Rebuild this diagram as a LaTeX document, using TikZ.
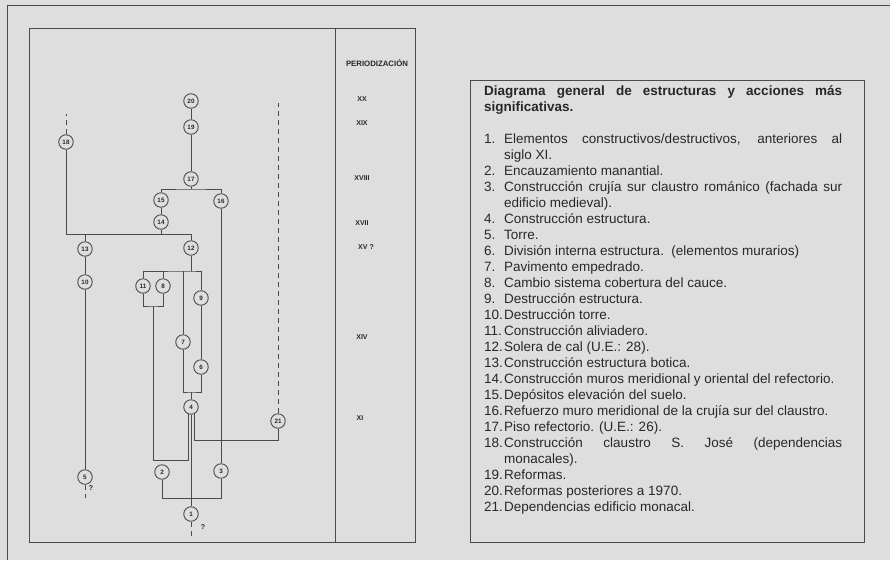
\documentclass[tikz,border=0pt]{standalone}
\usepackage{fontspec}
\setmainfont{Liberation Sans}
\usetikzlibrary{backgrounds}
\definecolor{pagebg}{RGB}{222,222,222}
\definecolor{ink}{RGB}{75,75,75}
\definecolor{txt}{RGB}{40,40,40}
\newcommand{\litem}[2]{\par\hangindent=20pt\hangafter=1\noindent\makebox[20pt][l]{#1.}#2}
\begin{document}
\begin{tikzpicture}[x=1pt,y=-1pt,
  num/.style={circle,draw=ink,line width=0.9pt,fill=pagebg,minimum size=14.5pt,inner sep=0pt,font=\fontsize{6.3}{6.3}\selectfont\bfseries,text=txt},
  link/.style={draw=ink,line width=0.8pt},
  dlink/.style={link,dash pattern=on 5pt off 4pt},
  frame/.style={draw=ink,line width=0.9pt},
  per/.style={font=\fontsize{7}{8}\selectfont\bfseries,text=txt,inner sep=0pt},
  qm/.style={font=\fontsize{7}{8}\selectfont\bfseries,text=txt,inner sep=0pt}
]
\useasboundingbox (0,0) rectangle (890,560);
% page frame and boxes
\draw[frame] (7,560) -- (7,5) -- (890,5);
\draw[frame] (29,28) rectangle (415,542);
\draw[frame] (335,28) -- (335,542);
\draw[frame] (470,80) rectangle (864,542);
% periodization
\node[per,font=\fontsize{7.8}{9}\selectfont\bfseries] (pz) at (377,63) {PERIODIZACIÓN};
\node[per] (p20) at (362,99) {XX};
\node[per] (p19) at (362,123) {XIX};
\node[per] (p18) at (362,178) {XVIII};
\node[per] (p17) at (362,223) {XVII};
\node[per] (p15) at (366,247) {XV ?};
\node[per] (p14) at (362,337) {XIV};
\node[per] (p11) at (360,418) {XI};
% nodes
\node[num] (n20) at (191,101) {20};
\node[num] (n19) at (191,127) {19};
\node[num] (n17) at (191,179) {17};
\node[num] (n18) at (66,142) {18};
\node[num] (n15) at (161,200) {15};
\node[num] (n16) at (221,201) {16};
\node[num] (n14) at (161,222) {14};
\node[num] (n13) at (85,249) {13};
\node[num] (n12) at (191,248) {12};
\node[num] (n10) at (85,282) {10};
\node[num] (n11) at (143,286) {11};
\node[num] (n8) at (163,286) {8};
\node[num] (n9) at (201,298) {9};
\node[num] (n7) at (183,342) {7};
\node[num] (n6) at (201,367) {6};
\node[num] (n4) at (191,407) {4};
\node[num] (n21) at (278,421) {21};
\node[num] (n2) at (162,472) {2};
\node[num] (n3) at (221,471) {3};
\node[num] (n5) at (85,477) {5};
\node[num] (n1) at (191,514) {1};
\node[qm] (q5) at (91,488) {?};
\node[qm] (q1) at (203,527) {?};
% junction coordinates
\coordinate (j17) at (191,189);
\coordinate (j12) at (191,234);
\coordinate (j13) at (85,234);
\coordinate (j14) at (161,234);
\coordinate (j12b) at (191,271);
\coordinate (a8) at (163,271);
\coordinate (a7) at (183,271);
\coordinate (b118) at (153,306);
\coordinate (c4l) at (188,460);
\coordinate (n4l) at (188,407);
\coordinate (n4r) at (194,407);
\coordinate (c21) at (194,440);
\coordinate (b76) at (191,392);
\coordinate (b23) at (191,498);
\coordinate (e18) at (66,114);
\coordinate (e21) at (278,103);
\coordinate (e5) at (85,498);
\coordinate (e1) at (191,538);
\begin{pgfonlayer}{background}
\fill[pagebg] (0,0) rectangle (890,560);
\draw[link] (n20) -- (n19) -- (n17) -- (j17);
\draw[link] (n15) |- (j17) -| (n16);
\draw[link] (n15) -- (n14) -- (j14);
\draw[link] (n18) |- (j12) -- (n12);
\draw[link] (j13) -- (n13) -- (n10) -- (n5);
\draw[link] (n12) -- (j12b);
\draw[link] (n11) |- (j12b) -| (n9);
\draw[link] (a8) -- (n8);
\draw[link] (a7) -- (n7);
\draw[link] (n11) |- (b118) -| (n8);
\draw[link] (b118) |- (c4l) -- (n4l);
\draw[link] (n9) -- (n6);
\draw[link] (n7) |- (b76) -| (n6);
\draw[link] (b76) -- (n4) -- (n1);
\draw[link] (n4r) -- (c21) -| (n21);
\draw[link] (n16) -- (n3);
\draw[link] (n2) |- (b23) -| (n3);
\draw[dlink] (n18) -- (e18);
\draw[dlink] (n21) -- (e21);
\draw[dlink] (n5) -- (e5);
\draw[dlink] (n1) -- (e1);
\end{pgfonlayer}
% legend
\node[anchor=north west,inner sep=0pt,text width=358pt,align=justify,text=txt,
      font=\fontsize{13.5}{16}\selectfont] (legend) at (484,85) {%
{\bfseries Diagrama general de estructuras y acciones más\linebreak significativas.}\par\vspace{16pt}
\litem{1}{Elementos constructivos/destructivos, anteriores al\linebreak siglo XI.}
\litem{2}{Encauzamiento manantial.}
\litem{3}{Construcción crujía sur claustro románico (fachada sur\linebreak edificio medieval).}
\litem{4}{Construcción estructura.}
\litem{5}{Torre.}
\litem{6}{División interna estructura.\ \ (elementos murarios)}
\litem{7}{Pavimento empedrado.}
\litem{8}{Cambio sistema cobertura del cauce.}
\litem{9}{Destrucción estructura.}
\litem{10}{Destrucción torre.}
\litem{11}{Construcción aliviadero.}
\litem{12}{Solera de cal (U.E.: 28).}
\litem{13}{Construcción estructura botica.}
\litem{14}{Construcción muros meridional y oriental del refectorio.}
\litem{15}{Depósitos elevación del suelo.}
\litem{16}{Refuerzo muro meridional de la crujía sur del claustro.}
\litem{17}{Piso refectorio. (U.E.: 26).}
\litem{18}{Construcción claustro S. José (dependencias\linebreak monacales).}
\litem{19}{Reformas.}
\litem{20}{Reformas posteriores a 1970.}
\litem{21}{Dependencias edificio monacal.}\par};
\end{tikzpicture}
\end{document}
